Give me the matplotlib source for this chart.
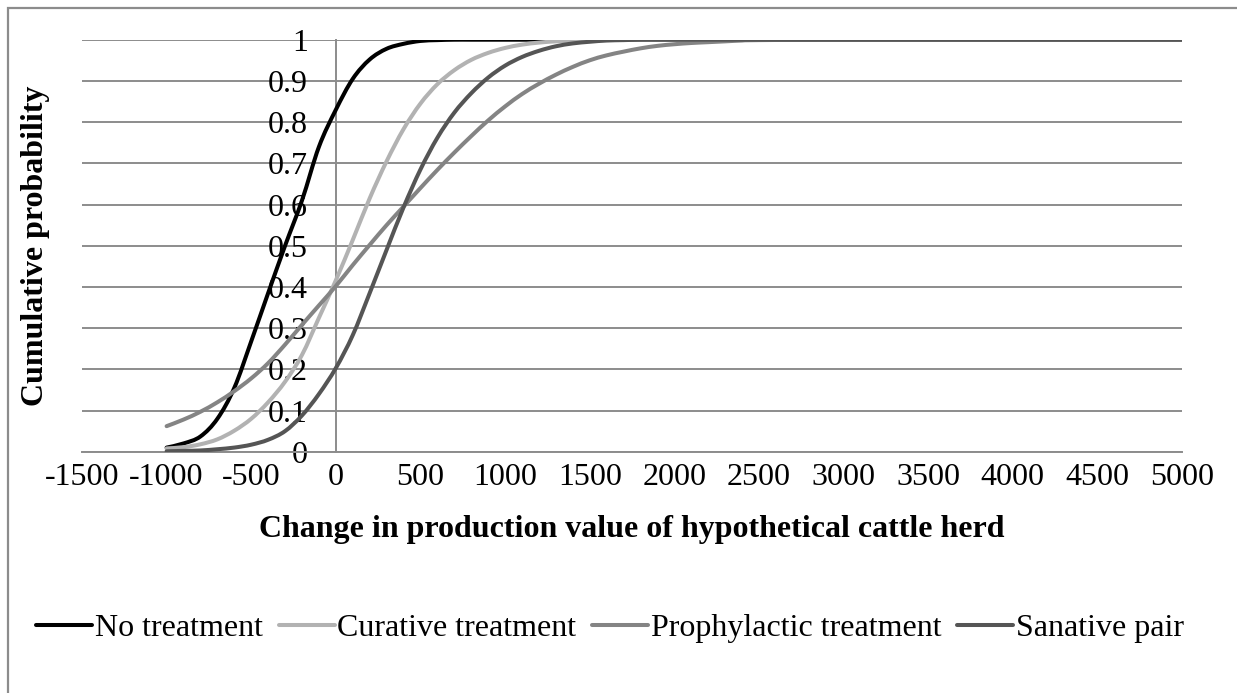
import matplotlib
matplotlib.use("Agg")
import matplotlib.pyplot as plt
from matplotlib.patches import Rectangle, PathPatch
from matplotlib.path import Path
from matplotlib.lines import Line2D

plt.rcParams['font.family'] = ['Liberation Serif', 'DejaVu Serif']
plt.rcParams['axes.unicode_minus'] = False

# change in production value (x) and cumulative probability per scenario
x_vals = [-1000, -900, -800, -700, -600, -500, -400, -300, -200, -100,
          0, 100, 200, 300, 400, 500, 600, 700, 800, 900,
          1000, 1100, 1200, 1300, 1400, 1500, 1600, 1700, 1800, 1900,
          2000, 2100, 2200, 2300, 2400, 2500, 3000, 4000, 5000]

no_treatment = [0.010, 0.020, 0.037, 0.080, 0.155, 0.268, 0.385, 0.500, 0.610, 0.740,
                0.830, 0.905, 0.952, 0.978, 0.990, 0.997, 0.999, 1.0, 1.0, 1.0,
                1.0, 1.0, 1.0, 1.0, 1.0, 1.0, 1.0, 1.0, 1.0, 1.0,
                1.0, 1.0, 1.0, 1.0, 1.0, 1.0, 1.0, 1.0, 1.0]

curative = [0.008, 0.011, 0.018, 0.030, 0.051, 0.080, 0.120, 0.170, 0.235, 0.325,
            0.416, 0.514, 0.615, 0.705, 0.783, 0.845, 0.892, 0.926, 0.951, 0.968,
            0.980, 0.988, 0.993, 0.996, 0.998, 0.999, 1.0, 1.0, 1.0, 1.0,
            1.0, 1.0, 1.0, 1.0, 1.0, 1.0, 1.0, 1.0, 1.0]

prophylactic = [0.062, 0.078, 0.097, 0.120, 0.147, 0.178, 0.215, 0.260, 0.308, 0.355,
                0.402, 0.453, 0.502, 0.550, 0.595, 0.640, 0.684, 0.726, 0.766, 0.804,
                0.838, 0.868, 0.893, 0.915, 0.934, 0.950, 0.962, 0.971, 0.979, 0.985,
                0.989, 0.992, 0.994, 0.996, 0.998, 0.999, 1.0, 1.0, 1.0]

sanative = [0.001, 0.002, 0.003, 0.006, 0.010, 0.017, 0.029, 0.050, 0.088, 0.140,
            0.203, 0.283, 0.385, 0.490, 0.593, 0.685, 0.762, 0.823, 0.870, 0.908,
            0.937, 0.958, 0.973, 0.984, 0.991, 0.995, 0.998, 0.999, 1.0, 1.0,
            1.0, 1.0, 1.0, 1.0, 1.0, 1.0, 1.0, 1.0, 1.0]

series = [("No treatment", no_treatment, "#000000"),
          ("Curative treatment", curative, "#b2b2b2"),
          ("Prophylactic treatment", prophylactic, "#848484"),
          ("Sanative pair", sanative, "#555555")]

grid_col = "#8c8c8c"
fs = 23
lw = 2.9


def smooth_path(xs, ys):
    # Excel-like smoothed line: cubic Bezier segments through the points
    pts = list(zip(xs, ys))
    n = len(pts)
    verts = [pts[0]]
    codes = [Path.MOVETO]
    for i in range(n - 1):
        p0 = pts[i - 1] if i > 0 else pts[i]
        p1 = pts[i]
        p2 = pts[i + 1]
        p3 = pts[i + 2] if i + 2 < n else pts[i + 1]
        c1 = (p1[0] + (p2[0] - p0[0]) / 6, p1[1] + (p2[1] - p0[1]) / 6)
        c2 = (p2[0] - (p3[0] - p1[0]) / 6, p2[1] - (p3[1] - p1[1]) / 6)
        verts += [c1, c2, p2]
        codes += [Path.CURVE4] * 3
    return Path(verts, codes)


fig = plt.figure(figsize=(12.37, 6.93), dpi=100)
ax = fig.add_axes([82 / 1237, 1 - 451.7 / 693, 1100 / 1237, 412 / 693])

handles = []
for name, vals, col in series:
    ax.add_patch(PathPatch(smooth_path(x_vals, vals), fill=False, edgecolor=col, lw=lw,
                           capstyle="round", joinstyle="round", zorder=3))
    handles.append(Line2D([], [], color=col, lw=lw, solid_capstyle="round", label=name))

ax.set_xlim(-1500, 5000)
ax.set_ylim(0, 1)
ax.set_xticks(range(-1500, 5001, 500))
ax.set_yticks([i / 10 for i in range(11)])
ax.set_yticklabels(["0", "0.1", "0.2", "0.3", "0.4", "0.5", "0.6", "0.7", "0.8", "0.9", "1"])
ax.yaxis.grid(True, color=grid_col, lw=1.4)

for s in ["top", "right"]:
    ax.spines[s].set_visible(False)
ax.spines["left"].set_position(("data", 0))
ax.spines["left"].set_color(grid_col)
ax.spines["left"].set_linewidth(1.4)
ax.spines["bottom"].set_color(grid_col)
ax.spines["bottom"].set_linewidth(1.4)
ax.tick_params(axis="both", length=0, labelsize=fs)
ax.tick_params(axis="x", pad=8)
ax.tick_params(axis="y", pad=20)

ax.set_xlabel("Change in production value of hypothetical cattle herd", fontsize=fs,
              fontweight="bold", labelpad=17)
ax.set_ylabel("Cumulative probability", fontsize=fs, fontweight="bold")
ax.yaxis.set_label_coords(-0.029, 0.5)

fig.legend(handles=handles, loc="center", bbox_to_anchor=(610 / 1237, 1 - 628 / 693), ncol=4,
           frameon=False, fontsize=fs, handlelength=1.75, handletextpad=0.08,
           columnspacing=0.5)

fig.add_artist(Rectangle((8 / 1237, -0.1), 2, 1 - 8 / 693 + 0.1, transform=fig.transFigure,
                         fill=False, edgecolor=grid_col, lw=1.6))

fig.savefig("out.png", dpi=100)
